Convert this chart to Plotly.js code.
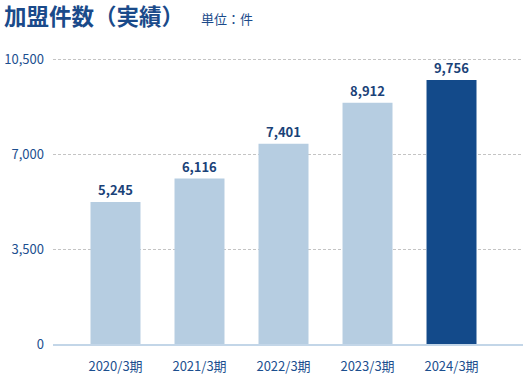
<!DOCTYPE html>
<html>
<head>
<meta charset="utf-8">
<script src="https://cdn.plot.ly/plotly-3.0.1.min.js"></script>
<style>html,body{margin:0;padding:0;background:#fff;}#chart{width:523px;height:380px;}</style>
</head>
<body>
<div id="chart"></div>
<script>
const categories = ["2020/3期", "2021/3期", "2022/3期", "2023/3期", "2024/3期"];
const values = [5245, 6116, 7401, 8912, 9756];
const valueLabels = ["5,245", "6,116", "7,401", "8,912", "9,756"];
const barColors = ["#b6cde1", "#b6cde1", "#b6cde1", "#b6cde1", "#134a8a"];
const yTicks = [0, 3500, 7000, 10500];
const yTickLabels = ["0", "3,500", "7,000", "10,500"];

const FONT = "'Noto Sans CJK JP', 'Noto Sans', sans-serif";
const TEXT = "#1c4f8f";

const trace = {
  type: "bar",
  x: categories,
  y: values,
  width: 0.595,
  marker: { color: barColors, line: { width: 0 } },
  text: valueLabels,
  textposition: "outside",
  cliponaxis: false,
  textfont: { family: FONT, size: 13, color: "#1a4278", weight: 700 },
  hoverinfo: "none"
};

const layout = {
  width: 523,
  height: 380,
  margin: { l: 53, r: 0, t: 58, b: 36 },
  paper_bgcolor: "#fff",
  plot_bgcolor: "#fff",
  showlegend: false,
  font: { family: FONT, color: TEXT },
  xaxis: {
    type: "category",
    range: [-0.744, 4.851],
    showgrid: false,
    zeroline: false,
    showline: true,
    linecolor: "#c3d6e8",
    linewidth: 2,
    ticks: "",
    tickfont: { family: FONT, size: 13, color: TEXT },
    ticklabelstandoff: 9,
    fixedrange: true
  },
  yaxis: {
    range: [0, 10570],
    tickvals: yTicks,
    ticktext: yTickLabels,
    showgrid: true,
    gridcolor: "#c4c4c4",
    griddash: "3px,2px",
    gridwidth: 1,
    zeroline: false,
    showline: false,
    ticks: "",
    ticklabelstandoff: 8,
    tickfont: { family: FONT, size: 13, color: TEXT },
    fixedrange: true
  },
  annotations: [
    {
      text: "加盟件数（実績）",
      xref: "paper", yref: "paper",
      x: -51 / 470, y: 1 + 43 / 286,
      xanchor: "left", yanchor: "middle",
      showarrow: false,
      font: { family: FONT, size: 22.5, color: "#1a4a8a", weight: 700 }
    },
    {
      text: "単位：件",
      xref: "paper", yref: "paper",
      x: (199 - 53) / 470, y: 1 + 40 / 286,
      xanchor: "left", yanchor: "middle",
      showarrow: false,
      font: { family: FONT, size: 13, color: "#1a4a8a" }
    }
  ]
};

Plotly.newPlot("chart", [trace], layout, { staticPlot: true, displayModeBar: false });
</script>
</body>
</html>
